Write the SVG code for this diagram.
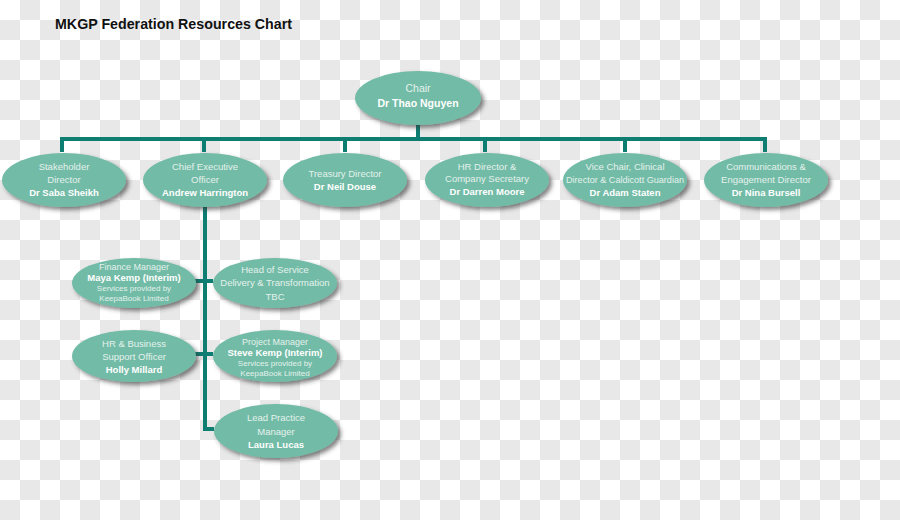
<svg xmlns="http://www.w3.org/2000/svg" width="900" height="520" viewBox="0 0 900 520">
<defs>
<pattern id="checker" x="0" y="0" width="40" height="40" patternUnits="userSpaceOnUse">
<path d="M0 0H40V40H0Z" fill="#ffffff"/>
<path d="M20 0H40V20H20ZM0 20H20V40H0Z" fill="#e8e8e8"/>
</pattern>
<filter id="shadow" x="-20%" y="-30%" width="150%" height="170%">
<feDropShadow dx="3" dy="3" stdDeviation="2" flood-color="#333" flood-opacity="0.6"/>
</filter>
</defs>
<style>
.node ellipse{fill:#72bba6;filter:url(#shadow)}
.lt{font-family:"Liberation Sans",Arial,sans-serif;font-size:9.5px;fill:#e4f2ed;text-anchor:middle}
.bd{font-family:"Liberation Sans",Arial,sans-serif;font-size:9.5px;fill:#ffffff;font-weight:bold;text-anchor:middle}
.sm{font-family:"Liberation Sans",Arial,sans-serif;font-size:8px;fill:#e4f2ed;text-anchor:middle}
.conn{stroke:#0e7d72;stroke-width:4;fill:none}
.title{font-family:"Liberation Sans",Arial,sans-serif;font-size:15px;font-weight:bold;fill:#111}
</style>
<rect x="0" y="0" width="900" height="520" style="fill:url(#checker)"/>
<text class="title" x="55" y="29" textLength="237" lengthAdjust="spacingAndGlyphs">MKGP Federation Resources Chart</text>
<g id="connectors">
<path class="conn" d="M418 124 V139"/>
<path class="conn" d="M62 152 V139 H765 V152"/>
<path class="conn" d="M204 139 V152"/>
<path class="conn" d="M345 139 V152"/>
<path class="conn" d="M485 139 V152"/>
<path class="conn" d="M625 139 V152"/>
<path class="conn" d="M205 206 V429 H214"/>
<path class="conn" d="M195 281 H213"/>
<path class="conn" d="M195 354 H213"/>
</g>
<g id="chair" class="node">
<ellipse cx="418" cy="98" rx="63" ry="27"/>
<text class="lt" x="418" y="92" style="font-size:10.5px">Chair</text>
<text class="bd" x="418" y="107" style="font-size:10.5px">Dr Thao Nguyen</text>
</g>
<g id="stakeholder" class="node">
<ellipse cx="64" cy="180" rx="62" ry="27"/>
<text class="lt" x="64" y="170">Stakeholder</text>
<text class="lt" x="64" y="183">Director</text>
<text class="bd" x="64" y="196">Dr Saba Sheikh</text>
</g>
<g id="ceo" class="node">
<ellipse cx="205" cy="180" rx="62" ry="27"/>
<text class="lt" x="205" y="170">Chief Executive</text>
<text class="lt" x="205" y="183">Officer</text>
<text class="bd" x="205" y="196">Andrew Harrington</text>
</g>
<g id="treasury" class="node">
<ellipse cx="345" cy="180" rx="62" ry="27"/>
<text class="lt" x="345" y="177">Treasury Director</text>
<text class="bd" x="345" y="190">Dr Neil Douse</text>
</g>
<g id="hr-director" class="node">
<ellipse cx="487" cy="180" rx="62" ry="27"/>
<text class="lt" x="487" y="170">HR Director &amp;</text>
<text class="lt" x="487" y="182">Company Secretary</text>
<text class="bd" x="487" y="195">Dr Darren Moore</text>
</g>
<g id="vice-chair" class="node">
<ellipse cx="625" cy="180" rx="62" ry="27"/>
<text class="lt" x="625" y="170">Vice Chair, Clinical</text>
<text class="lt" x="625" y="183" textLength="118" lengthAdjust="spacingAndGlyphs">Director &amp; Caldicott Guardian</text>
<text class="bd" x="625" y="196">Dr Adam Staten</text>
</g>
<g id="comms" class="node">
<ellipse cx="766" cy="180" rx="62" ry="27"/>
<text class="lt" x="766" y="170">Communications &amp;</text>
<text class="lt" x="766" y="183">Engagement Director</text>
<text class="bd" x="766" y="196">Dr Nina Bursell</text>
</g>
<g id="finance" class="node">
<ellipse cx="134" cy="283" rx="62" ry="25"/>
<text class="lt" x="134" y="270" style="font-size:9px">Finance Manager</text>
<text class="bd" x="134" y="281">Maya Kemp (Interim)</text>
<text class="sm" x="134" y="291">Services provided by</text>
<text class="sm" x="134" y="301">KeepaBook Limited</text>
</g>
<g id="head-of-service" class="node">
<ellipse cx="275" cy="283" rx="62" ry="25"/>
<text class="lt" x="275" y="273">Head of Service</text>
<text class="lt" x="275" y="286">Delivery &amp; Transformation</text>
<text class="lt" x="275" y="300">TBC</text>
</g>
<g id="hr-business" class="node">
<ellipse cx="134" cy="356" rx="62" ry="26"/>
<text class="lt" x="134" y="347">HR &amp; Business</text>
<text class="lt" x="134" y="360">Support Officer</text>
<text class="bd" x="134" y="373">Holly Millard</text>
</g>
<g id="project-manager" class="node">
<ellipse cx="275" cy="356" rx="62" ry="26"/>
<text class="lt" x="275" y="345" style="font-size:9px">Project Manager</text>
<text class="bd" x="275" y="356">Steve Kemp (Interim)</text>
<text class="sm" x="275" y="366">Services provided by</text>
<text class="sm" x="275" y="376">KeepaBook Limited</text>
</g>
<g id="lead-practice" class="node">
<ellipse cx="276" cy="431" rx="62" ry="27"/>
<text class="lt" x="276" y="421">Lead Practice</text>
<text class="lt" x="276" y="435">Manager</text>
<text class="bd" x="276" y="448">Laura Lucas</text>
</g>
</svg>
